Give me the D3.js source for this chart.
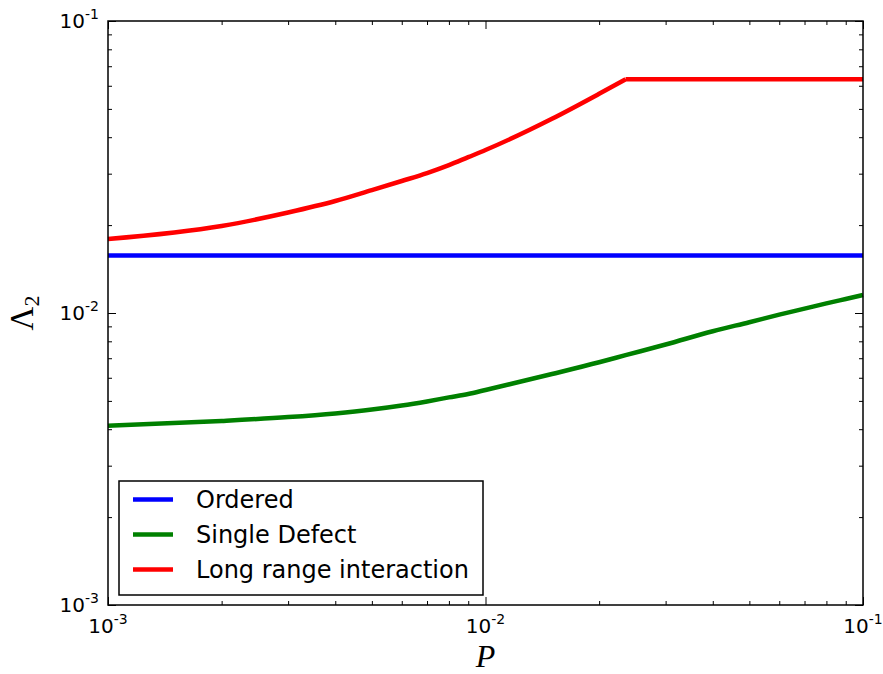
<!DOCTYPE html>
<html lang="en">
<head>
  <meta charset="utf-8">
  <title>Lambda2 vs P</title>
  <script src="https://cdn.jsdelivr.net/npm/d3@7/dist/d3.min.js"></script>
  <style>
    body { margin: 0; background: #fff; }
    text { font-family: "DejaVu Sans", sans-serif; fill: #000; }
    .axis path, .axis line { stroke: #000; }
  </style>
</head>
<body>
  <script>
    // values (log-log)
    var pValues = [0.001, 0.002, 0.003, 0.004, 0.005, 0.006, 0.007, 0.008, 0.009, 0.01,
                   0.015, 0.02, 0.0235, 0.03, 0.04, 0.05, 0.06, 0.07, 0.08, 0.09, 0.1];
    var orderedValues = [0.01574, 0.01574, 0.01574, 0.01574, 0.01574, 0.01574, 0.01574,
                         0.01574, 0.01574, 0.01574, 0.01574, 0.01574, 0.01574, 0.01574,
                         0.01574, 0.01574, 0.01574, 0.01574, 0.01574, 0.01574, 0.01574];
    var singleDefectValues = [0.00411, 0.00427, 0.00440, 0.00453, 0.00467, 0.00482, 0.00498,
                              0.00514, 0.00528, 0.00545, 0.00618, 0.00678, 0.00717, 0.00780,
                              0.00866, 0.00930, 0.00987, 0.01035, 0.01079, 0.01117, 0.01152];
    var longRangeValues = [0.01792, 0.01986, 0.02209, 0.02418, 0.02636, 0.02832, 0.03013,
                           0.03208, 0.03417, 0.03615, 0.04625, 0.05632, 0.06314, 0.06314,
                           0.06314, 0.06314, 0.06314, 0.06314, 0.06314, 0.06314, 0.06314];
    var seriesNames = ["Ordered", "Single Defect", "Long range interaction"];
    var xTickExponents = [-3, -2, -1];
    var yTickExponents = [-3, -2, -1];

    var colors = ["#0000ff", "#008000", "#ff0000"];

    var w = 883;
    var h = 674;
    var margin = { top: 21, left: 108, right: 20, bottom: 69 };
    var width = w - margin.left - margin.right;
    var height = h - margin.top - margin.bottom;

    var svg = d3.select("body").append("svg")
                .attr("width", w)
                .attr("height", h);
    var chart = svg.append("g")
                   .attr("transform", "translate(" + margin.left + "," + margin.top + ")");

    var x = d3.scaleLog().domain([1e-3, 1e-1]).range([0, width]);
    var y = d3.scaleLog().domain([1e-3, 1e-1]).range([height, 0]);

    var majors = [1e-3, 1e-2, 1e-1];
    var minors = [];
    [1e-3, 1e-2].forEach(function (d) {
      for (var k = 2; k <= 9; k++) minors.push(d * k);
    });

    // inward ticks on all four sides
    function tickAxis(maker, scale, values, size) {
      return maker(scale).tickValues(values).tickSize(-size).tickFormat("");
    }
    var sides = [
      { maker: d3.axisBottom, scale: x, t: "translate(0," + height + ")" },
      { maker: d3.axisTop, scale: x, t: "translate(0,0)" },
      { maker: d3.axisLeft, scale: y, t: "translate(0,0)" },
      { maker: d3.axisRight, scale: y, t: "translate(" + width + ",0)" }
    ];
    sides.forEach(function (s) {
      chart.append("g").attr("class", "axis").attr("transform", s.t)
           .call(tickAxis(s.maker, s.scale, minors, 4))
           .call(function (g) { g.select(".domain").remove(); });
      chart.append("g").attr("class", "axis").attr("transform", s.t)
           .call(tickAxis(s.maker, s.scale, majors, 8))
           .call(function (g) { g.select(".domain").remove(); });
    });
    chart.selectAll(".axis line").attr("stroke-width", 1);

    // lines: smooth rising part, straight plateau at the end (keeps the kink sharp)
    var allSeries = [orderedValues, singleDefectValues, longRangeValues];
    var smooth = d3.line()
                   .x(function (d) { return x(d[0]); })
                   .y(function (d) { return y(d[1]); })
                   .curve(d3.curveMonotoneX);
    var straight = d3.line()
                     .x(function (d) { return x(d[0]); })
                     .y(function (d) { return y(d[1]); });
    allSeries.forEach(function (vals, i) {
      var pts = pValues.map(function (p, j) { return [p, vals[j]]; });
      var k = pts.length - 1;
      while (k > 0 && pts[k - 1][1] === pts[k][1]) k--;
      var parts = [];
      if (k > 0) parts.push(smooth(pts.slice(0, k + 1)));
      if (k < pts.length - 1) parts.push(straight(pts.slice(k)));
      chart.append("path")
           .attr("fill", "none")
           .attr("stroke", colors[i])
           .attr("stroke-width", 4.5)
           .attr("stroke-linejoin", "round")
           .attr("d", parts.join(""));
    });

    // frame
    chart.append("rect")
         .attr("width", width)
         .attr("height", height)
         .attr("fill", "none")
         .attr("stroke", "#000")
         .attr("stroke-width", 1.5);

    // tick labels 10^n
    function powLabel(sel, e) {
      sel.append("tspan").attr("font-size", 20).text("10");
      sel.append("tspan").attr("font-size", 14).attr("dy", -9).text(e);
    }
    xTickExponents.forEach(function (e) {
      var t = chart.append("text")
                   .attr("x", x(Math.pow(10, e)))
                   .attr("y", height + 28)
                   .attr("text-anchor", "middle");
      powLabel(t, e);
    });
    yTickExponents.forEach(function (e) {
      var t = chart.append("text")
                   .attr("x", -9)
                   .attr("y", y(Math.pow(10, e)) + 7)
                   .attr("text-anchor", "end");
      powLabel(t, e);
    });

    // axis labels
    svg.append("text")
       .attr("x", margin.left + width / 2)
       .attr("y", 667)
       .attr("text-anchor", "middle")
       .style("font-family", "'Liberation Serif', serif")
       .style("font-style", "italic")
       .attr("font-size", 32)
       .text("P");
    var yl = svg.append("text")
                .attr("transform", "translate(33," + (margin.top + height / 2) + ") rotate(-90)")
                .attr("text-anchor", "middle")
                .style("font-family", "'Liberation Serif', serif")
                .attr("font-size", 33);
    yl.append("tspan").text("\u039B");
    yl.append("tspan").attr("font-size", 22).attr("dy", 6).text("2");

    // legend
    var legend = chart.append("g")
                      .attr("transform", "translate(" + (119 - margin.left) + "," + (481 - margin.top) + ")");
    legend.append("rect")
          .attr("width", 364)
          .attr("height", 114)
          .attr("fill", "#fff")
          .attr("stroke", "#000")
          .attr("stroke-width", 1.5);
    seriesNames.forEach(function (name, i) {
      var yy = 18.5 + i * 35;
      legend.append("line")
            .attr("x1", 14).attr("x2", 54)
            .attr("y1", yy).attr("y2", yy)
            .attr("stroke", colors[i])
            .attr("stroke-width", 4.5);
      legend.append("text")
            .attr("x", 77)
            .attr("y", yy + 8)
            .attr("font-size", 24)
            .text(name);
    });
  </script>
</body>
</html>
